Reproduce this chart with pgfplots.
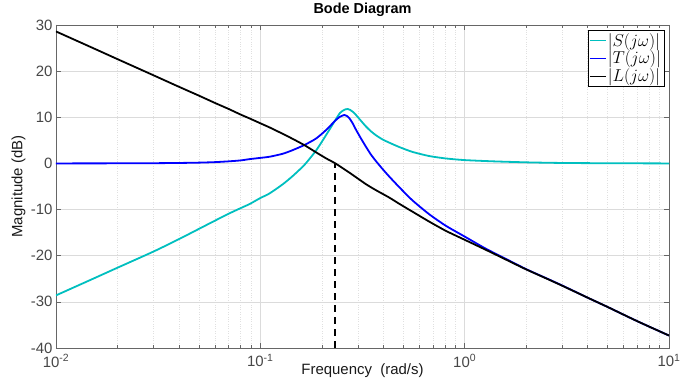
\documentclass[border=0pt]{standalone}
\usepackage{fontspec}
\setmainfont{Liberation Sans}
\usepackage{pgfplots}
\pgfplotsset{compat=1.18}
\usetikzlibrary{calc}
\definecolor{scol}{rgb}{0,0.75,0.75}
\definecolor{gridc}{gray}{0.86}
\definecolor{mgridc}{gray}{0.88}
\definecolor{axc}{gray}{0.40}
\begin{document}
\begin{tikzpicture}
\begin{axis}[
  scale only axis, width=613bp, height=323bp,
  xmode=log, xmin=0.01, xmax=10, ymin=-40, ymax=30,
  xtick={0.01,0.1,1,10},
  xticklabels={10\textsuperscript{-2},10\textsuperscript{-1},10\textsuperscript{0},10\textsuperscript{1}},
  ytick={-40,-30,-20,-10,0,10,20,30},
  minor y tick num=0,
  grid=both,
  major grid style={solid, gridc, line width=0.6bp},
  minor grid style={dotted, mgridc, line width=0.5bp},
  axis line style={axc, line width=0.7bp},
  tick style={axc, line width=0.6bp},
  tick align=inside,
  major tick length=5bp, minor tick length=3bp,
  /pgf/number format/assume math mode=true,
  ticklabel style={text=black!72, font=\fontsize{15}{17}\selectfont},
  xticklabel style={yshift=-3bp},
  title={Bode Diagram},
  title style={font=\bfseries\fontsize{14.5}{17}\selectfont, yshift=-1bp},
  xlabel={Frequency \ (rad/s)},
  ylabel={Magnitude (dB)},
  label style={font=\fontsize{15}{17}\selectfont, text=black!90},
  xlabel style={at={(axis description cs:0.5,0)}, anchor=base, yshift=-27bp},
  ylabel style={at={(axis description cs:-0.0612,0.5)}, anchor=center},
  legend style={at={(axis description cs:0.992,0.985)}, anchor=north east,
    draw=black, line width=0.6bp, fill=white,
    font=\fontsize{17.28}{19}\selectfont, inner sep=1.5bp,
    row sep=0.5bp,
    nodes={inner sep=1.5bp}},
  legend cell align=left,
  legend image code/.code={\draw[#1, line width=0.9bp] (0bp,0bp) -- (16bp,0bp);},
  every axis plot/.append style={smooth, tension=0.4},
]
\addplot[scol, line width=1.8bp] coordinates {
(0.01,-28.6) (0.015,-25.1) (0.02,-22.6) (0.03,-19.1) (0.04,-16.4) (0.05,-14.2)
(0.06,-12.4) (0.07,-10.9) (0.08,-9.7) (0.0886,-8.8) (0.1,-7.5) (0.111,-6.5)
(0.1289,-4.5) (0.1443,-2.7) (0.1645,-0.3) (0.1875,2.8) (0.2098,6.15)
(0.2330,9.4) (0.2450,10.9) (0.2529,11.4) (0.2600,11.7) (0.2675,11.8) (0.2750,11.6)
(0.2850,11.1) (0.2939,10.5) (0.3100,9.3) (0.3289,8.0) (0.3481,6.95) (0.3681,6.1)
(0.3963,5.2) (0.4276,4.5) (0.4786,3.55) (0.555,2.5) (0.67,1.6) (0.808,1.08) (1.0,0.72)
(1.42,0.43) (2.07,0.22) (3,0.1) (5,0.04) (10,0.0)};
\addlegendentry{$|S(j\omega)|$}
\addplot[blue, line width=1.8bp] coordinates {
(0.01,0.0) (0.02,0.02) (0.03,0.05) (0.04,0.1) (0.05,0.17) (0.06,0.28) (0.07,0.45)
(0.08,0.65) (0.0886,0.93) (0.1,1.2) (0.111,1.45) (0.1289,2.1) (0.1443,2.9)
(0.1645,4.0) (0.1875,5.4) (0.2098,7.24) (0.2330,9.3) (0.2450,10.1) (0.2578,10.5)
(0.2650,10.3) (0.2729,9.78) (0.2830,8.7) (0.2939,7.3) (0.3100,5.5) (0.3289,3.6)
(0.3481,1.9) (0.3681,0.5) (0.3963,-1.2) (0.4276,-2.85) (0.4786,-5.15) (0.555,-8.0)
(0.670,-11.0) (0.808,-13.5) (1.0,-15.85) (1.266,-18.45) (1.585,-20.65) (1.985,-22.85)
(2.5,-24.85) (3.0,-26.45) (4.0,-29.1) (5.0,-31.1) (7.0,-34.2) (10,-37.3)};
\addlegendentry{$|T(j\omega)|$}
\addplot[black, line width=1.8bp] coordinates {
(0.01,28.6) (0.015,25.1) (0.02,22.6) (0.03,19.1) (0.04,16.6) (0.05,14.7)
(0.06,13.1) (0.07,11.8) (0.08,10.6) (0.0886,9.75) (0.1,8.7) (0.111,7.8)
(0.1289,6.4) (0.1443,5.3) (0.1645,3.95) (0.1875,2.4) (0.2098,1.1) (0.2330,0.0)
(0.2729,-2.0) (0.3289,-4.5) (0.3681,-5.8) (0.4276,-7.4) (0.4786,-8.75)
(0.555,-10.45) (0.670,-12.6) (0.808,-14.6) (1.0,-16.55) (1.266,-18.7) (1.585,-20.8)
(1.985,-22.9) (2.5,-24.9) (3.0,-26.5) (4.0,-29.1) (5.0,-31.1) (7.0,-34.2) (10,-37.3)};
\addlegendentry{$|L(j\omega)|$}
\addplot[black, line width=1.8bp, dash pattern=on 7bp off 5bp, forget plot, sharp plot] coordinates {(0.233,-40) (0.233,0)};
\node[anchor=north, inner sep=0bp, yshift=-3bp, font=\fontsize{12}{13}\selectfont] at (axis cs:0.233,-40) {$\omega_c$};
\coordinate (SW) at (rel axis cs:0,0);
\coordinate (NE) at (rel axis cs:1,1);
\end{axis}
\pgfresetboundingbox
\path ($(SW)+(-56bp,-34bp)$) rectangle ($(NE)+(12bp,25bp)$);
\end{tikzpicture}
\end{document}
